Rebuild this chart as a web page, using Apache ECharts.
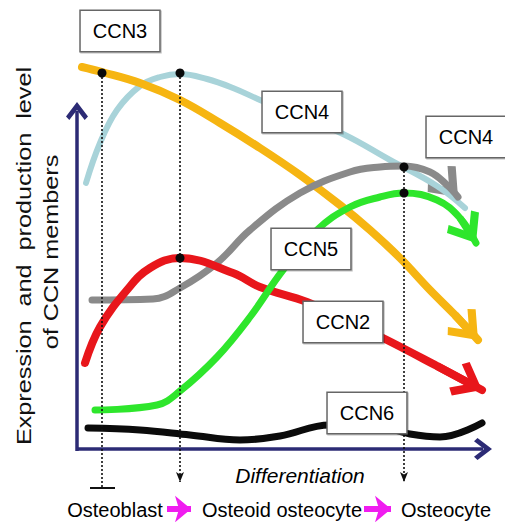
<!DOCTYPE html>
<html>
<head>
<meta charset="utf-8">
<script src="https://cdn.jsdelivr.net/npm/echarts@6/dist/echarts.min.js"></script>
<style>
  html, body { margin: 0; padding: 0; background: #fff; }
  #chart { width: 505px; height: 522px; }
</style>
</head>
<body>
<div id="chart"></div>
<script>
// curves, in picture units (x to the right, y downwards)
const ccn3 = [[82,67],[102,72],[140,83],[180,100],[220,123],[260,148],[300,175],[340,205],[370,230],[400,258],[430,290],[455,315],[478,340]];
const ccn4 = [[86,183],[100,143],[117,110],[140,86],[160,77],[180,74],[207,79],[233,88],[260,100],[300,117],[343,134],[390,160],[437,186],[465,208]];
const ccnGray = [[92,300],[153,299],[180,288],[217,263],[250,230],[300,193],[350,172],[380,167],[404,166],[430,172],[447,185],[458,197]];
const ccn5 = [[95,410],[157,405],[180,391],[217,357],[250,317],[283,270],[317,230],[350,207],[380,197],[404,193],[437,200],[460,218],[476,243]];
const ccn2 = [[85,363],[100,327],[127,290],[150,268],[180,258],[233,273],[260,287],[307,302],[345,320],[383,338],[437,366],[482,390]];
const ccn6 = [[88,428],[140,430],[190,435],[240,440],[280,436],[330,425],[370,425],[410,434],[440,437],[482,423]];

const boxLabels = ['CCN3', 'CCN4', 'CCN4', 'CCN5', 'CCN2', 'CCN6'];
const boxPos = [[120,31],[302,112],[466,137],[311,249],[343,322],[367,413]];

const dots = [[102,73],[180,73],[180,258],[404,167],[404,193]];
const guideX = [102, 180, 404];
const guideTop = [73, 73, 167];
const guideBottom = [488, 487, 487];

const stageNames = ['Osteoblast', 'Osteoid osteocyte', 'Osteocyte'];
const stageX = [115, 282, 446];
const stageArrows = [[167, 199], [364, 399]];

const yTitle = ['Expression  and  production  level', 'of CCN members'];
const xTitle = 'Differentiation';

const FONT = '"Liberation Sans", Arial, sans-serif';
const NAVY = '#2c2b75';
const chevron = 'path://M50,0L100,66L85,82L50,36L15,82L0,66Z';

// short segment ending so that the arrow head tip lands on the last point
function headSeg(pts, h) {
  const a = pts[pts.length - 2], b = pts[pts.length - 1];
  const dx = b[0] - a[0], dy = b[1] - a[1], len = Math.hypot(dx, dy);
  return [a, [b[0] - dx / len * h / 2, b[1] - dy / len * h / 2]];
}

const curves = [
  { data: ccn4, color: '#a8d3d9', width: 6 },
  { data: ccn3, color: '#f6b512', width: 8, arrow: true },
  { data: ccnGray, color: '#8a8a8a', width: 7, arrow: true },
  { data: ccn2, color: '#e8161b', width: 8, arrow: true },
  { data: ccn5, color: '#2ee62c', width: 7, arrow: true },
  { data: ccn6, color: '#0b0b0b', width: 7 }
];

const series = curves.map((c) => ({
  type: 'line',
  data: c.data,
  smooth: 0.4,
  symbol: 'none',
  lineStyle: { color: c.color, width: c.width, cap: 'round' },
  z: 2,
  silent: true
}));

series.push({
  type: 'lines',
  coordinateSystem: 'cartesian2d',
  symbol: ['none', chevron],
  symbolSize: [0, [38, 30]],
  z: 2,
  silent: true,
  data: curves.filter((c) => c.arrow).map((c) => ({
    coords: headSeg(c.data, 30),
    lineStyle: { color: c.color, width: c.width, opacity: 1 }
  }))
});

// axes
series.push({
  type: 'lines',
  coordinateSystem: 'cartesian2d',
  symbol: ['none', chevron],
  symbolSize: [0, [22, 18]],
  lineStyle: { color: NAVY, width: 3.5, opacity: 1 },
  z: 3,
  silent: true,
  data: [
    { coords: headSeg([[77, 451], [77, 102]], 18) },
    { coords: headSeg([[76, 449], [492, 449]], 18) }
  ]
});

// dotted guides
const guideStyle = { color: '#111', width: 1.6, type: [2, 2], opacity: 1 };
series.push({
  type: 'lines',
  coordinateSystem: 'cartesian2d',
  symbol: ['none', 'arrow'],
  symbolSize: [0, [6, 10]],
  lineStyle: guideStyle,
  z: 4,
  silent: true,
  data: [1, 2].map((i) => ({
    coords: headSeg([[guideX[i], guideTop[i]], [guideX[i], guideBottom[i]]], 10)
  }))
});
series.push({
  type: 'lines',
  coordinateSystem: 'cartesian2d',
  symbol: 'none',
  lineStyle: guideStyle,
  z: 4,
  silent: true,
  data: [{ coords: [[guideX[0], guideTop[0]], [guideX[0], guideBottom[0]]] }]
});
series.push({
  type: 'lines',
  coordinateSystem: 'cartesian2d',
  symbol: 'none',
  lineStyle: { color: '#111', width: 2, opacity: 1 },
  z: 4,
  silent: true,
  data: [{ coords: [[guideX[0] - 12, guideBottom[0]], [guideX[0] + 13, guideBottom[0]]] }]
});

series.push({
  type: 'scatter',
  data: dots,
  symbolSize: 9,
  itemStyle: { color: '#0a0a0a', opacity: 1 },
  z: 5,
  silent: true
});

// boxed labels
series.push({
  type: 'scatter',
  symbolSize: 1,
  itemStyle: { color: 'transparent', opacity: 1 },
  z: 6,
  silent: true,
  data: boxPos.map((p, i) => ({ name: boxLabels[i], value: p })),
  label: {
    show: true,
    position: 'inside',
    formatter: '{b}',
    fontFamily: FONT,
    fontSize: 20,
    color: '#000',
    opacity: 1,
    backgroundColor: '#fff',
    borderColor: '#666',
    borderWidth: 1.5,
    padding: [10, 12],
    shadowColor: 'rgba(0,0,0,0.25)',
    shadowOffsetX: 1,
    shadowOffsetY: 1,
    shadowBlur: 1
  }
});

// stage names and x title
series.push({
  type: 'scatter',
  symbolSize: 1,
  itemStyle: { color: 'transparent', opacity: 1 },
  z: 6,
  silent: true,
  data: stageNames.map((n, i) => ({ name: n, value: [stageX[i], 510] }))
    .concat([{ name: xTitle, value: [300, 475], label: { fontStyle: 'italic', fontSize: 21 } }]),
  label: {
    show: true,
    position: 'inside',
    formatter: '{b}',
    fontFamily: FONT,
    fontSize: 20,
    color: '#000',
    opacity: 1
  }
});

series.push({
  type: 'lines',
  coordinateSystem: 'cartesian2d',
  symbol: ['none', 'arrow'],
  symbolSize: [0, [20, 16]],
  lineStyle: { color: '#f01cf0', width: 6, opacity: 1 },
  z: 6,
  silent: true,
  data: stageArrows.map((a) => ({ coords: headSeg([[a[0], 509], [a[1], 509]], 16) }))
});

const chart = echarts.init(document.getElementById('chart'), null, { renderer: 'svg' });
chart.setOption({
  backgroundColor: '#fff',
  animation: false,
  grid: { left: 0, right: 0, top: 0, bottom: 0 },
  xAxis: { type: 'value', min: 0, max: 505, show: false },
  yAxis: { type: 'value', min: 0, max: 522, inverse: true, show: false },
  graphic: yTitle.map((t, i) => ({
    type: 'text',
    x: i === 0 ? 24 : 51,
    y: i === 0 ? 256 : 252,
    rotation: Math.PI / 2,
    scaleX: 1.2,
    z: 10,
    style: {
      text: t,
      font: '21px ' + FONT,
      fill: '#111',
      align: 'center',
      verticalAlign: 'middle',
      textAlign: 'center',
      textVerticalAlign: 'middle'
    }
  })),
  series: series
});
</script>
</body>
</html>
